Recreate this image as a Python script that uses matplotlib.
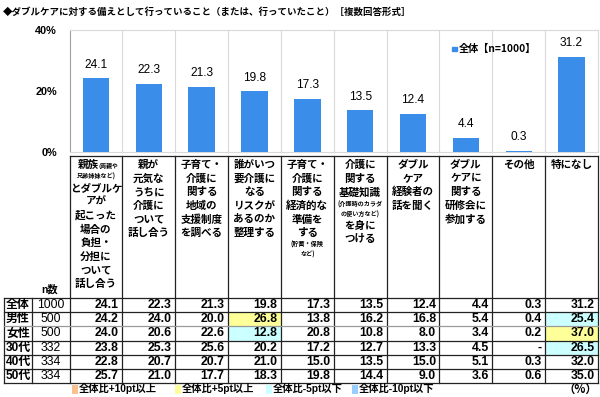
import matplotlib
matplotlib.use("Agg")
import matplotlib.pyplot as plt
from matplotlib.patches import Rectangle
import numpy as np

plt.rcParams['font.family'] = ['Liberation Sans', 'Noto Sans CJK JP']

# ---------------- data ----------------
title = "◆ダブルケアに対する備えとして行っていること（または、行っていたこと）［複数回答形式］"
series_name = "全体【n=1000】"
cat_lines = [
    ["親族|(両親や", "_兄弟姉妹など)", "とダブルケ", "アが", "起こった", "場合の", "負担・", "分担に", "ついて", "話し合う"],
    ["親が", "元気な", "うちに", "介護に", "ついて", "話し合う"],
    ["子育て・", "介護に", "関する", "地域の", "支援制度", "を調べる"],
    ["誰がいつ", "要介護に", "なる", "リスクが", "あるのか", "整理する"],
    ["子育て・", "介護に", "関する", "経済的な", "準備を", "する", "_(貯蓄・保険", "_など)"],
    ["介護に", "関する", "基礎知識", "_(介護時のカラダ", "_の使い方など)", "を身に", "つける"],
    ["ダブル", "ケア", "経験者の", "話を聞く"],
    ["ダブル", "ケアに", "関する", "研修会に", "参加する"],
    ["その他"],
    ["特になし"],
]
overall = [24.1, 22.3, 21.3, 19.8, 17.3, 13.5, 12.4, 4.4, 0.3, 31.2]
yticks = [0, 20, 40]
ytick_labels = ["0%", "20%", "40%"]

n_header = "n数"
row_labels = ["全体", "男性", "女性", "30代", "40代", "50代"]
row_n = [1000, 500, 500, 332, 334, 334]
table_values = [
    [24.1, 22.3, 21.3, 19.8, 17.3, 13.5, 12.4, 4.4, 0.3, 31.2],
    [24.2, 24.0, 20.0, 26.8, 13.8, 16.2, 16.8, 5.4, 0.4, 25.4],
    [24.0, 20.6, 22.6, 12.8, 20.8, 10.8, 8.0, 3.4, 0.2, 37.0],
    [23.8, 25.3, 25.6, 20.2, 17.2, 12.7, 13.3, 4.5, None, 26.5],
    [22.8, 20.7, 20.7, 21.0, 15.0, 13.5, 15.0, 5.1, 0.3, 32.0],
    [25.7, 21.0, 17.7, 18.3, 19.8, 14.4, 9.0, 3.6, 0.6, 35.0],
]
highlights = [(1, 3, "+5"), (2, 3, "-5"), (1, 9, "-5"), (2, 9, "+5"), (3, 9, "-5")]
legend_keys = ["+10", "+5", "-5", "-10"]
legend_labels = ["全体比+10pt以上", "全体比+5pt以上", "全体比-5pt以下", "全体比-10pt以下"]
unit_label = "（%）"

# ---------------- style ----------------
BAR = "#3A8EEA"
HL = {"+10": "#FAC090", "+5": "#FFFF99", "-5": "#CCFFFF", "-10": "#99CCFF"}
JP = ['Noto Sans CJK JP']
NUM = ['Liberation Sans', 'Noto Sans CJK JP']

W, H = 600, 397
fig = plt.figure(figsize=(W / 100, H / 100), dpi=100)

x0, x1 = 69.5, 598.0          # table / chart column span (px)
y_top, y_bot = 30.0, 151.5    # chart area (px)
ncol = len(overall)
cw = (x1 - x0) / ncol

ax = fig.add_axes([x0 / W, 1 - y_bot / H, (x1 - x0) / W, (y_bot - y_top) / H])
xs = np.arange(ncol)
ax.bar(xs, overall, width=0.5, color=BAR, zorder=3)
ax.set_xlim(-0.5, ncol - 0.5)
ax.set_ylim(0, 40)
ax.set_yticks(yticks)
ax.set_yticklabels(ytick_labels, fontsize=7.8, fontweight='bold', family=NUM)
ax.set_xticks([])
ax.set_xticks(np.arange(0.5, ncol - 0.5, 1), minor=True)
ax.grid(which='minor', axis='x', color='#d9d9d9', lw=0.8)
ax.tick_params(which='both', length=0, pad=9)
for s in ['top', 'right', 'bottom']:
    ax.spines[s].set_color('#d9d9d9')
    ax.spines[s].set_linewidth(0.8)
ax.spines['left'].set_color('#a0a0a0')
ax.spines['left'].set_linewidth(0.8)
for x, v in zip(xs, overall):
    ax.annotate(f"{v:.1f}", (x, v), xytext=(0, 5.5), textcoords='offset points',
                ha='center', va='bottom', fontsize=8.6, family=NUM)

# overlay in pixel coordinates
ov = fig.add_axes([0, 0, 1, 1], zorder=5)
ov.set_xlim(0, W)
ov.set_ylim(H, 0)
ov.axis('off')
ov.patch.set_visible(False)

ov.text(3, 12, title, ha='left', va='center', fontsize=6.8, fontweight='bold', family=JP)

# chart legend
ov.add_patch(Rectangle((452, 46.5), 4.5, 4.5, color=BAR))
ov.text(459, 49, series_name, ha='left', va='center', fontsize=7.3, fontweight='bold', family=JP)

# table geometry
hdr_top = 155.5
data_top = 298.0
rh = (383.0 - data_top) / len(row_labels)
lx = [4.0, 32.0, x0]

# highlight cells
for r, c, k in highlights:
    ov.add_patch(Rectangle((x0 + c * cw, data_top + r * rh), cw, rh, color=HL[k], lw=0, zorder=1))

LC = '#222222'
LW = 0.9
ov.plot([x0, x1], [hdr_top, hdr_top], color=LC, lw=LW)
for k in range(ncol + 1):
    ov.plot([x0 + k * cw] * 2, [hdr_top, data_top + rh * len(row_labels)], color=LC, lw=LW)
for xv in lx[:2]:
    ov.plot([xv, xv], [data_top, data_top + rh * len(row_labels)], color=LC, lw=LW)
for r in range(len(row_labels) + 1):
    col = '#9a9a9a' if r == 2 else LC
    ov.plot([lx[0], x1], [data_top + r * rh] * 2, color=col, lw=LW)

# header texts
HB, HS = 13.6, 10.0
FB, FS = 7.6, 4.4
for c, lines in enumerate(cat_lines):
    cx = x0 + (c + 0.5) * cw
    y = 165.0
    prev = None
    for ln in lines:
        small = ln.startswith('_')
        h = HS if small else HB
        if prev is not None:
            y += (prev + h) / 2
        prev = h
        if '|' in ln:
            big, sm = ln.split('|')
            ov.text(cx + 2.5, y, big, ha='right', va='center', fontsize=FB,
                    fontweight='bold', family=JP)
            ov.text(cx + 2.5, y + 0.5, sm, ha='left', va='center', fontsize=4.2,
                    fontweight='bold', family=JP)
        elif small:
            ov.text(cx, y, ln[1:], ha='center', va='center', fontsize=FS,
                    fontweight='bold', family=JP)
        else:
            ov.text(cx, y, ln, ha='center', va='center', fontsize=FB,
                    fontweight='bold', family=JP)

ov.text(50, 290, n_header, ha='center', va='center', fontsize=7.4, fontweight='bold', family=NUM)

# table body
for r, (lab, n, vals) in enumerate(zip(row_labels, row_n, table_values)):
    yc = data_top + (r + 0.5) * rh
    ov.text(18, yc, lab, ha='center', va='center', fontsize=8.6, fontweight='bold', family=NUM)
    ov.text(51, yc, str(n), ha='center', va='center', fontsize=8.8, family=NUM)
    for c, v in enumerate(vals):
        s = "-" if v is None else f"{v:.1f}"
        ov.text(x0 + (c + 1) * cw - 3.5, yc, s, ha='right', va='center',
                fontsize=8.8, fontweight='bold', family=NUM)

# bottom legend
leg_x = [72, 175, 266, 352]
ly = 389
for xk, key, lab in zip(leg_x, legend_keys, legend_labels):
    ov.add_patch(Rectangle((xk, ly - 4.5), 5.5, 9, color=HL[key], lw=0))
    ov.text(xk + 6.5, ly, lab, ha='left', va='center', fontsize=7.4, fontweight='bold', family=NUM)
ov.text(597, ly, unit_label, ha='right', va='center', fontsize=8.2, fontweight='bold', family=JP)

fig.savefig("out.png", dpi=100)
